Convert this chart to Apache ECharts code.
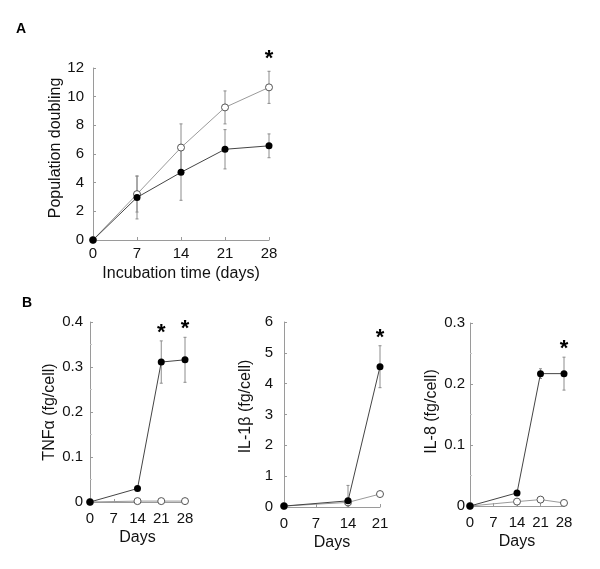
<!DOCTYPE html>
<html>
<head>
<meta charset="utf-8">
<script src="https://cdn.jsdelivr.net/npm/echarts@6/dist/echarts.min.js"></script>
<style>
html,body{margin:0;padding:0;background:#fff;}
#chart{width:600px;height:569px;}
</style>
</head>
<body>
<div id="chart"></div>
<script>
// ---- Panel A: population doubling ----
const daysA = [0, 7, 14, 21, 28];
const popOpen = [0, 3.2, 6.45, 9.25, 10.65];
const popOpenErr = [0, 1.25, 1.65, 1.15, 1.12];
const popOpenSig = [0, 0, 0, 0, 1];
const popFilled = [0, 2.97, 4.72, 6.33, 6.57];
const popFilledErr = [0, 1.5, 1.95, 1.37, 0.83];

// ---- Panel B1: TNF-alpha ----
const daysTNF = [0, 14, 21, 28];
const tnfFilled = [0, 0.03, 0.311, 0.316];
const tnfFilledErr = [0, 0, 0.047, 0.05];
const tnfSig = [0, 0, 1, 1];
const tnfOpen = [0, 0.002, 0.002, 0.002];

// ---- Panel B2: IL-1beta ----
const daysIL1 = [0, 14, 21];
const il1Filled = [0.03, 0.2, 4.55];
const il1FilledErr = [0, 0.5, 0.68];
const il1Sig = [0, 0, 1];
const il1Open = [0.03, 0.15, 0.42];

// ---- Panel B3: IL-8 ----
const daysIL8 = [0, 14, 21, 28];
const il8Filled = [0, 0.0215, 0.217, 0.217];
const il8FilledErr = [0, 0, 0.008, 0.027];
const il8Sig = [0, 0, 0, 1];
const il8Open = [0, 0.0072, 0.0105, 0.005];

const FONT = 'Liberation Sans, Arial, Helvetica, sans-serif';
const AXIS_C = '#9a9a9a';
const TXT = '#111';

function pairs(xs, ys) { return xs.map((x, i) => [x, ys[i]]); }
function errData(xs, ys, es, sig) { return xs.map((x, i) => [x, ys[i], es[i], sig ? sig[i] : 0]); }

function errRenderer(starOffset) {
  return function (params, api) {
    const x = api.value(0), y = api.value(1), e = api.value(2), s = api.value(3);
    const children = [];
    let topPt = api.coord([x, y]);
    if (e > 0) {
      topPt = api.coord([x, y + e]);
      const bot = api.coord([x, Math.max(0, y - e)]);
      children.push({ type: 'line', shape: { x1: topPt[0], y1: topPt[1], x2: bot[0], y2: bot[1] }, style: { stroke: '#8c8c8c', lineWidth: 1 } });
      children.push({ type: 'line', shape: { x1: topPt[0] - 1.5, y1: topPt[1], x2: topPt[0] + 1.5, y2: topPt[1] }, style: { stroke: '#8c8c8c', lineWidth: 1 } });
      children.push({ type: 'line', shape: { x1: bot[0] - 1.5, y1: bot[1], x2: bot[0] + 1.5, y2: bot[1] }, style: { stroke: '#8c8c8c', lineWidth: 1 } });
    }
    if (s) {
      children.push({ type: 'text', x: topPt[0], y: topPt[1] - starOffset,
        style: { text: '*', fill: '#000', font: 'bold 22px ' + FONT, textAlign: 'center', textVerticalAlign: 'middle' } });
    }
    return { type: 'group', children: children };
  };
}

function xAxisCfg(gi, max, name, gap, margin) {
  return {
    gridIndex: gi, type: 'value', min: 0, max: max, interval: 7,
    name: name, nameLocation: 'middle', nameGap: gap,
    nameTextStyle: { fontFamily: FONT, fontSize: 16, color: TXT },
    axisLine: { show: true, lineStyle: { color: AXIS_C, width: 1 } },
    axisTick: { show: true, inside: true, length: 3, lineStyle: { color: AXIS_C } },
    axisLabel: { fontFamily: FONT, fontSize: 15, color: TXT, margin: margin },
    splitLine: { show: false }
  };
}
function yAxisCfg(gi, max, interval, name, gap, minor, pad, margin) {
  return {
    gridIndex: gi, type: 'value', min: 0, max: max, interval: interval,
    name: name, nameLocation: 'middle', nameGap: gap,
    nameTextStyle: { fontFamily: FONT, fontSize: 16, color: TXT, padding: pad || 0 },
    axisLine: { show: true, lineStyle: { color: AXIS_C, width: 1 } },
    axisTick: { show: true, inside: true, length: 3, lineStyle: { color: AXIS_C } },
    minorTick: { show: minor, splitNumber: 2, length: 2, lineStyle: { color: '#c8c8c8' } },
    axisLabel: { fontFamily: FONT, fontSize: 15, color: TXT, margin: margin },
    splitLine: { show: false }
  };
}

function openLine(gi, xs, ys) {
  return { type: 'line', xAxisIndex: gi, yAxisIndex: gi, data: pairs(xs, ys), z: 3,
    symbol: 'circle', symbolSize: 7, showSymbol: true,
    lineStyle: { color: '#9a9a9a', width: 1 },
    itemStyle: { color: '#ffffff', borderColor: '#555', borderWidth: 1 } };
}
function filledLine(gi, xs, ys) {
  return { type: 'line', xAxisIndex: gi, yAxisIndex: gi, data: pairs(xs, ys), z: 4,
    symbol: 'circle', symbolSize: 7, showSymbol: true,
    lineStyle: { color: '#444', width: 1 },
    itemStyle: { color: '#000', borderColor: '#000', borderWidth: 0 } };
}
function errSeries(gi, data, off) {
  return { type: 'custom', xAxisIndex: gi, yAxisIndex: gi, data: data, z: 2,
    renderItem: errRenderer(off), encode: { x: 0, y: 1 } };
}

const chart = echarts.init(document.getElementById('chart'), null, { renderer: 'canvas' });
chart.setOption({
  animation: false,
  backgroundColor: '#fff',
  title: [
    { text: 'A', left: 11, top: 17, textStyle: { fontFamily: FONT, fontSize: 14, fontWeight: 'bold', color: '#000' } },
    { text: 'B', left: 17, top: 291, textStyle: { fontFamily: FONT, fontSize: 14, fontWeight: 'bold', color: '#000' } }
  ],
  grid: [
    { left: 93, top: 68, width: 176, height: 172 },
    { left: 90, top: 322, width: 95, height: 180 },
    { left: 284, top: 322, width: 96, height: 185 },
    { left: 470, top: 323, width: 94, height: 183 }
  ],
  xAxis: [
    xAxisCfg(0, 28, 'Incubation time (days)', 26, 6),
    xAxisCfg(1, 28, 'Days', 28, 9),
    xAxisCfg(2, 21, 'Days', 28, 9),
    xAxisCfg(3, 28, 'Days', 28, 9)
  ],
  yAxis: [
    yAxisCfg(0, 12, 2, 'Population doubling', 28, false, [0, 0, 0, 12], 9),
    yAxisCfg(1, 0.4, 0.1, 'TNFα (fg/cell)', 32, true, 0, 7),
    yAxisCfg(2, 6, 1, 'IL-1β (fg/cell)', 30, false, [0, 0, 0, 16], 11),
    yAxisCfg(3, 0.3, 0.1, 'IL-8 (fg/cell)', 30, true, [0, 0, 0, 6], 5)
  ],
  series: [
    errSeries(0, errData(daysA, popOpen, popOpenErr, popOpenSig), 12),
    errSeries(0, errData(daysA, popFilled, popFilledErr, null), 12),
    openLine(0, daysA, popOpen),
    filledLine(0, daysA, popFilled),

    errSeries(1, errData(daysTNF, tnfFilled, tnfFilledErr, tnfSig), 8),
    openLine(1, daysTNF, tnfOpen),
    filledLine(1, daysTNF, tnfFilled),

    errSeries(2, errData(daysIL1, il1Filled, il1FilledErr, il1Sig), 8),
    openLine(2, daysIL1, il1Open),
    filledLine(2, daysIL1, il1Filled),

    errSeries(3, errData(daysIL8, il8Filled, il8FilledErr, il8Sig), 8),
    openLine(3, daysIL8, il8Open),
    filledLine(3, daysIL8, il8Filled)
  ]
});
</script>
</body>
</html>
